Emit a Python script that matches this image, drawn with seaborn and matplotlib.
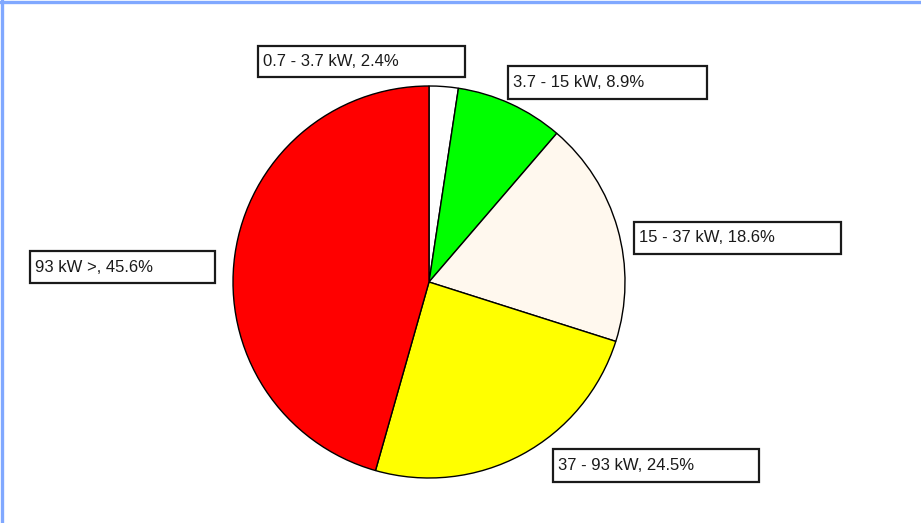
import matplotlib
matplotlib.use("Agg")
import matplotlib.pyplot as plt
from matplotlib.patches import Rectangle
from matplotlib.lines import Line2D
import seaborn as sns

# Motor power classes and their share of the total
categories = ["0.7 - 3.7 kW", "3.7 - 15 kW", "15 - 37 kW", "37 - 93 kW", "93 kW >"]
shares = [2.4, 8.9, 18.6, 24.5, 45.6]
colors = ["#FFFFFF", "#00FF00", "#FFF8EE", "#FFFF00", "#FF0000"]

sns.set_theme(style="white")
plt.rcParams["font.family"] = ["Liberation Sans", "DejaVu Sans"]

W, H = 921, 523
fig = plt.figure(figsize=(W / 100, H / 100), dpi=100)
fig.patch.set_facecolor("white")
ax = fig.add_axes([0, 0, 1, 1])

# pie centred in pixel space (y measured from the bottom)
cx, cy, r = 429, H - 282, 196
ax.pie(shares, colors=colors, startangle=90, counterclock=False,
       center=(cx, cy), radius=r,
       wedgeprops=dict(edgecolor="black", linewidth=1.0))

ax.set_xlim(0, W)
ax.set_ylim(0, H)
ax.set_aspect("equal")
ax.axis("off")

# label boxes: left, top, width, height (pixels from the top-left corner)
boxes = [
    (258, 46, 207, 31),
    (508, 66, 199, 33),
    (634, 222, 207, 32),
    (553, 449, 206, 33),
    (30, 251, 185, 32),
]
for (bx, by, bw, bh), cat, val in zip(boxes, categories, shares):
    ax.add_patch(Rectangle((bx, H - by - bh), bw, bh, facecolor="white",
                           edgecolor="#1a1a1a", linewidth=1.6, zorder=5))
    ax.text(bx + 5, H - by - bh / 2, f"{cat}, {val}%", ha="left", va="center",
            fontsize=12, color="#1a1a1a", zorder=6)

# light blue frame along the top and left edges
fig.add_artist(Line2D([0, 1], [1 - 1.5 / H, 1 - 1.5 / H], color="#80A8FF",
                      linewidth=2.4, transform=fig.transFigure))
fig.add_artist(Line2D([1.5 / W, 1.5 / W], [0, 1], color="#80A8FF",
                      linewidth=2.4, transform=fig.transFigure))

fig.savefig("out.png", dpi=100, facecolor="white")
